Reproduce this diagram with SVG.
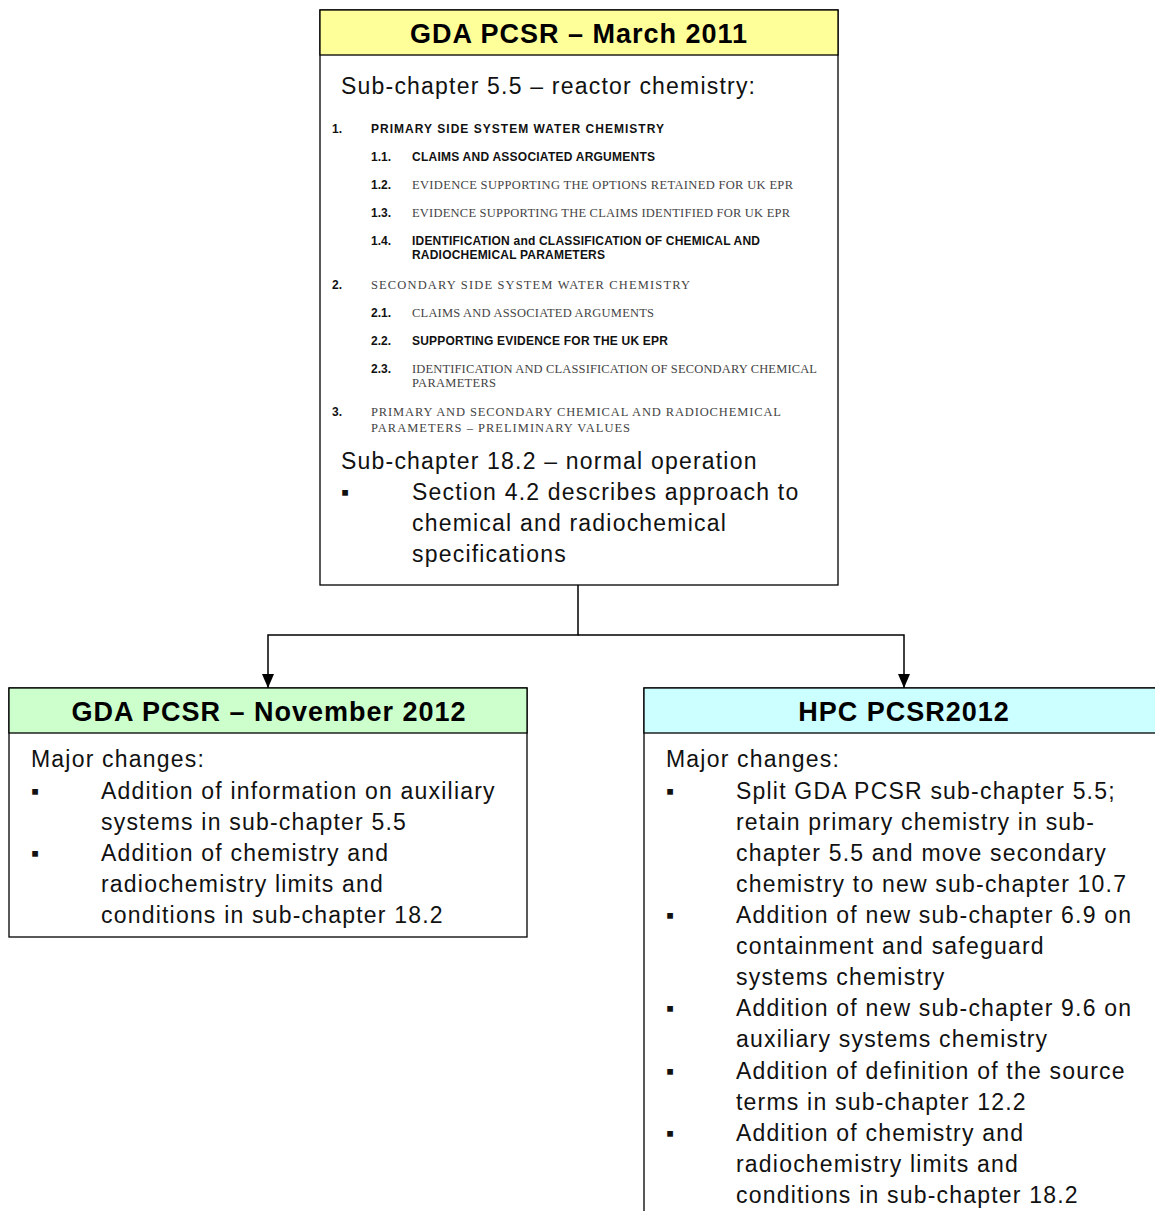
<svg xmlns="http://www.w3.org/2000/svg" width="1155" height="1211" viewBox="0 0 1155 1211">
<defs>
<marker id="arr" viewBox="0 0 14 12" refX="14" refY="6" markerWidth="14" markerHeight="12" markerUnits="userSpaceOnUse" orient="auto"><path d="M0,0 L14,6 L0,12 z" fill="#000"/></marker>
<style>
.box{fill:#fff;stroke:#000;stroke-width:1.3}
.hdr{stroke:#000;stroke-width:1.3}
.ht{font-family:"Liberation Sans",Arial,sans-serif;font-weight:bold;font-size:27px;letter-spacing:1px;text-anchor:middle;fill:#000}
.bt{font-family:"Liberation Sans",Arial,sans-serif;font-size:23px;letter-spacing:1.2px;fill:#111}
.sb{font-family:"Liberation Sans",Arial,sans-serif;font-weight:bold;font-size:12px;fill:#111}
.ss{font-family:"Liberation Serif","Times New Roman",serif;font-size:12.5px;fill:#444}
.cn{fill:none;stroke:#000;stroke-width:1.5}
</style>
</defs>
<g id="connectors">
<polyline class="cn" points="578,585 578,635 268,635 268,688" marker-end="url(#arr)"/>
<polyline class="cn" points="578,635 904,635 904,688" marker-end="url(#arr)"/>
</g>
<g id="node-march2011">
<rect class="box" x="320" y="10" width="518" height="575"/>
<rect class="hdr" x="320" y="10" width="518" height="45" fill="#ffff99"/>
<text class="ht" x="579" y="43">GDA PCSR – March 2011</text>
<text class="bt" x="341" y="94">Sub-chapter 5.5 – reactor chemistry:</text>
<text class="sb" x="332" y="133">1.</text><text class="sb" x="371" y="133" textLength="293" lengthAdjust="spacing">PRIMARY SIDE SYSTEM WATER CHEMISTRY</text>
<text class="sb" x="371" y="161">1.1.</text><text class="sb" x="412" y="161" textLength="243" lengthAdjust="spacing">CLAIMS AND ASSOCIATED ARGUMENTS</text>
<text class="sb" x="371" y="189">1.2.</text><text class="ss" x="412" y="189" textLength="381" lengthAdjust="spacing">EVIDENCE SUPPORTING THE OPTIONS RETAINED FOR UK EPR</text>
<text class="sb" x="371" y="217">1.3.</text><text class="ss" x="412" y="217" textLength="378" lengthAdjust="spacing">EVIDENCE SUPPORTING THE CLAIMS IDENTIFIED FOR UK EPR</text>
<text class="sb" x="371" y="245">1.4.</text><text class="sb" x="412" y="245" textLength="348" lengthAdjust="spacing">IDENTIFICATION and CLASSIFICATION OF CHEMICAL AND</text>
<text class="sb" x="412" y="259" textLength="193" lengthAdjust="spacing">RADIOCHEMICAL PARAMETERS</text>
<text class="sb" x="332" y="289">2.</text><text class="ss" x="371" y="289" textLength="319" lengthAdjust="spacing">SECONDARY SIDE SYSTEM WATER CHEMISTRY</text>
<text class="sb" x="371" y="317">2.1.</text><text class="ss" x="412" y="317" textLength="242" lengthAdjust="spacing">CLAIMS AND ASSOCIATED ARGUMENTS</text>
<text class="sb" x="371" y="345">2.2.</text><text class="sb" x="412" y="345" textLength="256" lengthAdjust="spacing">SUPPORTING EVIDENCE FOR THE UK EPR</text>
<text class="sb" x="371" y="373">2.3.</text><text class="ss" x="412" y="373" textLength="405" lengthAdjust="spacing">IDENTIFICATION AND CLASSIFICATION OF SECONDARY CHEMICAL</text>
<text class="ss" x="412" y="387" textLength="84" lengthAdjust="spacing">PARAMETERS</text>
<text class="sb" x="332" y="416">3.</text><text class="ss" x="371" y="416" textLength="410" lengthAdjust="spacing">PRIMARY AND SECONDARY CHEMICAL AND RADIOCHEMICAL</text>
<text class="ss" x="371" y="432" textLength="259" lengthAdjust="spacing">PARAMETERS – PRELIMINARY VALUES</text>
<text class="bt" x="341" y="469">Sub-chapter 18.2 – normal operation</text>
<text class="bt" x="341" y="500">▪</text><text class="bt" x="412" y="500">Section 4.2 describes approach to</text>
<text class="bt" x="412" y="531">chemical and radiochemical</text>
<text class="bt" x="412" y="562">specifications</text>
</g>
<g id="node-nov2012">
<rect class="box" x="9" y="688" width="518" height="249"/>
<rect class="hdr" x="9" y="688" width="518" height="45" fill="#ccffcc"/>
<text class="ht" x="269" y="721">GDA PCSR – November 2012</text>
<text class="bt" x="31" y="767">Major changes:</text>
<text class="bt" x="31" y="799">▪</text><text class="bt" x="101" y="799">Addition of information on auxiliary</text>
<text class="bt" x="101" y="830">systems in sub-chapter 5.5</text>
<text class="bt" x="31" y="861">▪</text><text class="bt" x="101" y="861">Addition of chemistry and</text>
<text class="bt" x="101" y="892">radiochemistry limits and</text>
<text class="bt" x="101" y="923">conditions in sub-chapter 18.2</text>
</g>
<g id="node-hpc2012">
<rect class="box" x="644" y="688" width="520" height="540"/>
<rect class="hdr" x="644" y="688" width="520" height="45" fill="#ccffff"/>
<text class="ht" x="904" y="721">HPC PCSR2012</text>
<text class="bt" x="666" y="767">Major changes:</text>
<text class="bt" x="666" y="799">▪</text><text class="bt" x="736" y="799">Split GDA PCSR sub-chapter 5.5;</text>
<text class="bt" x="736" y="830">retain primary chemistry in sub-</text>
<text class="bt" x="736" y="861">chapter 5.5 and move secondary</text>
<text class="bt" x="736" y="892">chemistry to new sub-chapter 10.7</text>
<text class="bt" x="666" y="923">▪</text><text class="bt" x="736" y="923">Addition of new sub-chapter 6.9 on</text>
<text class="bt" x="736" y="954">containment and safeguard</text>
<text class="bt" x="736" y="985">systems chemistry</text>
<text class="bt" x="666" y="1016">▪</text><text class="bt" x="736" y="1016">Addition of new sub-chapter 9.6 on</text>
<text class="bt" x="736" y="1047">auxiliary systems chemistry</text>
<text class="bt" x="666" y="1079">▪</text><text class="bt" x="736" y="1079">Addition of definition of the source</text>
<text class="bt" x="736" y="1110">terms in sub-chapter 12.2</text>
<text class="bt" x="666" y="1141">▪</text><text class="bt" x="736" y="1141">Addition of chemistry and</text>
<text class="bt" x="736" y="1172">radiochemistry limits and</text>
<text class="bt" x="736" y="1203">conditions in sub-chapter 18.2</text>
</g>
</svg>
